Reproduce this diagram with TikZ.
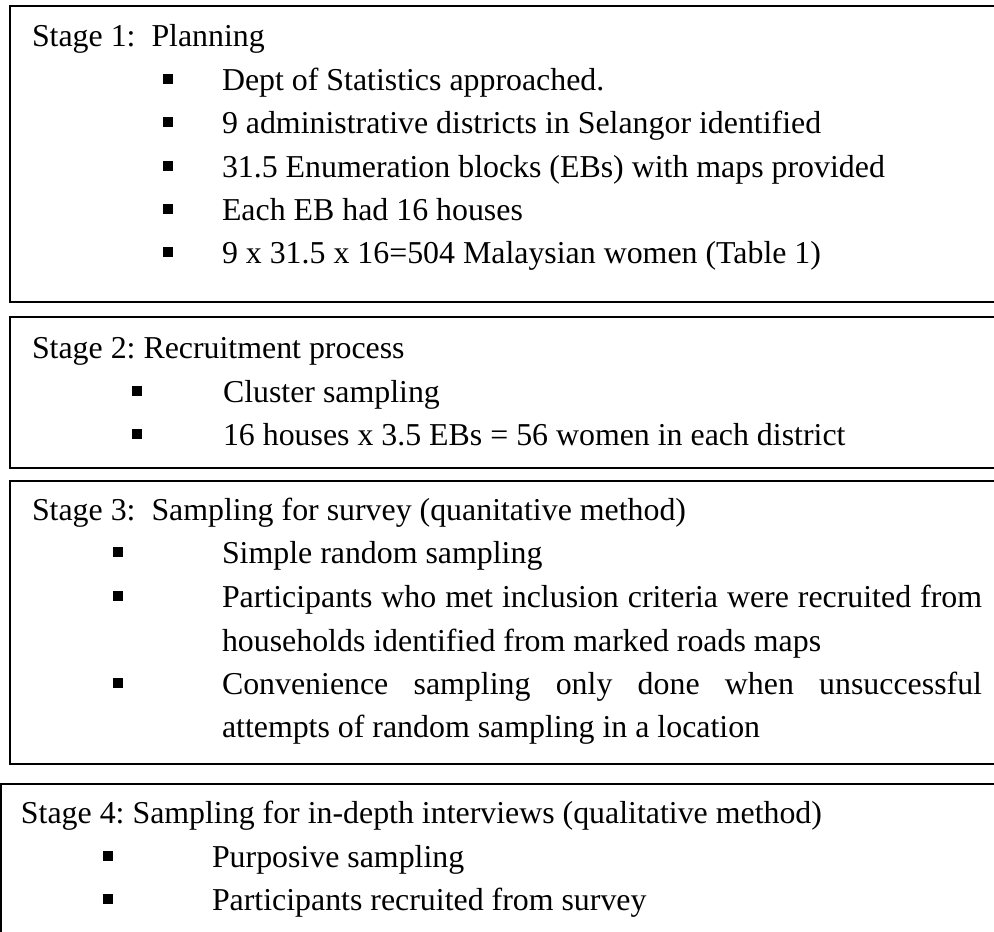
\documentclass[tikz,border=0pt]{standalone}
\usepackage{fontspec}
\setmainfont{Liberation Serif}
\frenchspacing
\begin{document}
\begin{tikzpicture}[x=0.75pt,y=-0.75pt,
  stagebox/.style={draw=black,line width=1.1pt},
  txt/.style={anchor=base west,inner sep=0pt,outer sep=0pt,font=\fontsize{23.9}{28}\selectfont\frenchspacing},
  sqbullet/.style={fill=black,draw=none,minimum width=7.5pt,minimum height=7pt,inner sep=0pt,outer sep=0pt}]
\useasboundingbox (0,0) rectangle (994,931);
\clip (0,0) rectangle (994,931);
% boxes
\draw[stagebox] (1010,6) -- (10,6) -- (10,302) -- (1010,302);
\draw[stagebox] (1010,317) -- (10,317) -- (10,468) -- (1010,468);
\draw[stagebox] (1010,481) -- (10,481) -- (10,764) -- (1010,764);
\draw[stagebox] (1010,784) -- (1,784) -- (1,950);
% Stage 1
\node[txt] (s1) at (32,47) {Stage 1:\ \ Planning};
\node[sqbullet] (b11) at (167.5,79) {};
\node[txt] (t11) at (222,90) {Dept of Statistics approached.};
\node[sqbullet] (b12) at (167.5,122) {};
\node[txt] (t12) at (222,133) {9 administrative districts in Selangor identified};
\node[sqbullet] (b13) at (167.5,166) {};
\node[txt] (t13) at (222,177) {31.5 Enumeration blocks (EBs) with maps provided};
\node[sqbullet] (b14) at (167.5,209) {};
\node[txt] (t14) at (222,220) {Each EB had 16 houses};
\node[sqbullet] (b15) at (167.5,252) {};
\node[txt] (t15) at (222,263) {9 x 31.5 x 16=504 Malaysian women (Table 1)};
% Stage 2
\node[txt] (s2) at (32,358) {Stage 2: Recruitment process};
\node[sqbullet] (b21) at (137,391) {};
\node[txt] (t21) at (223,402) {Cluster sampling};
\node[sqbullet] (b22) at (137,434) {};
\node[txt] (t22) at (223,445) {16 houses x 3.5 EBs = 56 women in each district};
% Stage 3
\node[txt] (s3) at (32,520) {Stage 3:\ \ Sampling for survey (quanitative method)};
\node[sqbullet] (b31) at (118,552) {};
\node[txt] (t31) at (222,563) {Simple random sampling};
\node[sqbullet] (b32) at (118,596) {};
\node[txt] (t32) at (222,607) {\makebox[570pt][s]{Participants who met inclusion criteria were recruited from}};
\node[txt] (t33) at (222,651) {households identified from marked roads maps};
\node[sqbullet] (b33) at (118,683) {};
\node[txt] (t34) at (222,694) {\makebox[570pt][s]{Convenience sampling only done when unsuccessful}};
\node[txt] (t35) at (222,737) {attempts of random sampling in a location};
% Stage 4
\node[txt] (s4) at (21,823) {Stage 4: Sampling for in-depth interviews (qualitative method)};
\node[sqbullet] (b41) at (108,856) {};
\node[txt] (t41) at (212,867) {Purposive sampling};
\node[sqbullet] (b42) at (108,899) {};
\node[txt] (t42) at (212,910) {Participants recruited from survey};
\end{tikzpicture}
\end{document}
